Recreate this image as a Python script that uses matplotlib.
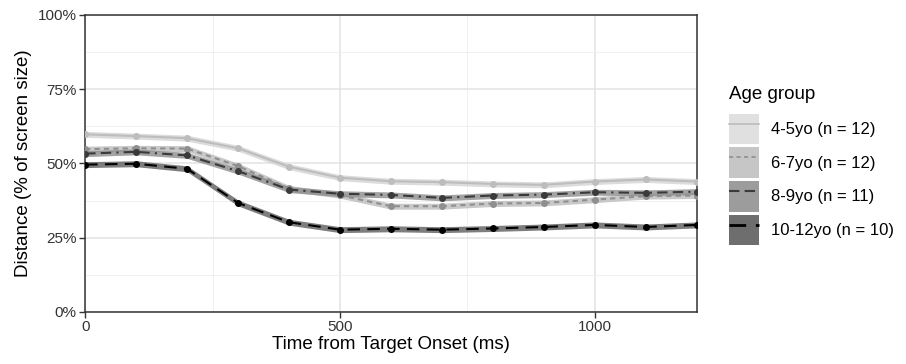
import numpy as np
import matplotlib
matplotlib.use("Agg")
import matplotlib.pyplot as plt
from matplotlib.patches import Patch
from matplotlib.lines import Line2D
from matplotlib.ticker import FuncFormatter, MultipleLocator

plt.rcParams['font.family'] = ['Liberation Sans', 'DejaVu Sans']

time_ms = [0, 100, 200, 300, 400, 500, 600, 700, 800, 900, 1000, 1100, 1200]
groups = ['4-5yo (n = 12)', '6-7yo (n = 12)', '8-9yo (n = 11)', '10-12yo (n = 10)']
dist_45 = [59.8, 59.2, 58.5, 55.1, 48.9, 45.2, 44.0, 43.7, 43.1, 42.8, 43.9, 44.6, 43.9]
dist_67 = [54.8, 55.1, 55.0, 49.1, 41.6, 39.3, 35.6, 35.6, 36.5, 36.7, 37.8, 39.0, 39.2]
dist_89 = [53.3, 53.9, 52.7, 47.4, 41.2, 39.8, 39.4, 38.4, 39.2, 39.5, 40.3, 40.1, 40.5]
dist_1012 = [49.6, 49.9, 48.2, 36.7, 30.2, 27.7, 28.0, 27.7, 28.1, 28.6, 29.3, 28.6, 29.3]
band = 1.0  # ribbon half-width (%)

series = [dist_45, dist_67, dist_89, dist_1012]
fills = ['#d4d4d4', '#bcbcbc', '#8c8c8c', '#5e5e5e']
lines = ['#bdbdbd', '#8f8f8f', '#3a3a3a', '#000000']
styles = ['-', (0, (2.5, 2)), (0, (5, 2.5, 5, 2.5, 1, 2.5)), (0, (6, 3.5))]
key_fills = ['#e0e0e0', '#c6c6c6', '#9c9c9c', '#6e6e6e']
key_lw = [1.2, 1.2, 1.5, 2.0]

fig = plt.figure(figsize=(9.06, 3.64), dpi=100)
ax = fig.add_axes([0.094, 0.143, 0.675, 0.816])

for y, fc, lc, ls in zip(series, fills, lines, styles):
    y = np.array(y)
    ax.fill_between(time_ms, y - band, y + band, color=fc, alpha=0.8, lw=0, zorder=2)
    ax.plot(time_ms, y, color=lc, ls=ls, lw=1.5, marker='o', ms=4, zorder=3)

ax.set_xlim(0, 1200)
ax.set_ylim(0, 100)
ax.xaxis.set_major_locator(MultipleLocator(500))
ax.xaxis.set_minor_locator(MultipleLocator(250))
ax.yaxis.set_major_locator(MultipleLocator(25))
ax.yaxis.set_minor_locator(MultipleLocator(12.5))
ax.yaxis.set_major_formatter(FuncFormatter(lambda v, p: f"{v:.0f}%"))
ax.grid(which='major', color='#e3e3e3', lw=1.1, zorder=0)
ax.grid(which='minor', color='#eeeeee', lw=0.6, zorder=0)
ax.set_axisbelow(True)
ax.tick_params(which='minor', length=0)
ax.tick_params(which='major', length=4, width=1, color='#333333',
               labelsize=11, labelcolor='#333333', pad=2)
for s in ax.spines.values():
    s.set_color('#333333')
    s.set_linewidth(1.1)

ax.set_xlabel('Time from Target Onset (ms)', fontsize=13.5, labelpad=1)
ax.set_ylabel('Distance (% of screen size)', fontsize=13.5, labelpad=4)

handles = []
for kf, lc, ls, lw in zip(key_fills, lines, styles, key_lw):
    handles.append((Patch(facecolor=kf, edgecolor='none'),
                    Line2D([], [], color=lc, ls=ls, lw=lw)))
leg = fig.legend(handles, groups, loc='upper left', bbox_to_anchor=(0.805, 0.765),
                 frameon=False, fontsize=12, title='Age group', title_fontsize=13.5,
                 handlelength=1.8, handleheight=2.45, labelspacing=0.18,
                 handletextpad=0.72, borderpad=0, borderaxespad=0)
leg._legend_box.align = 'left'
leg._legend_box.sep = 8

fig.savefig('out.png', dpi=100)
